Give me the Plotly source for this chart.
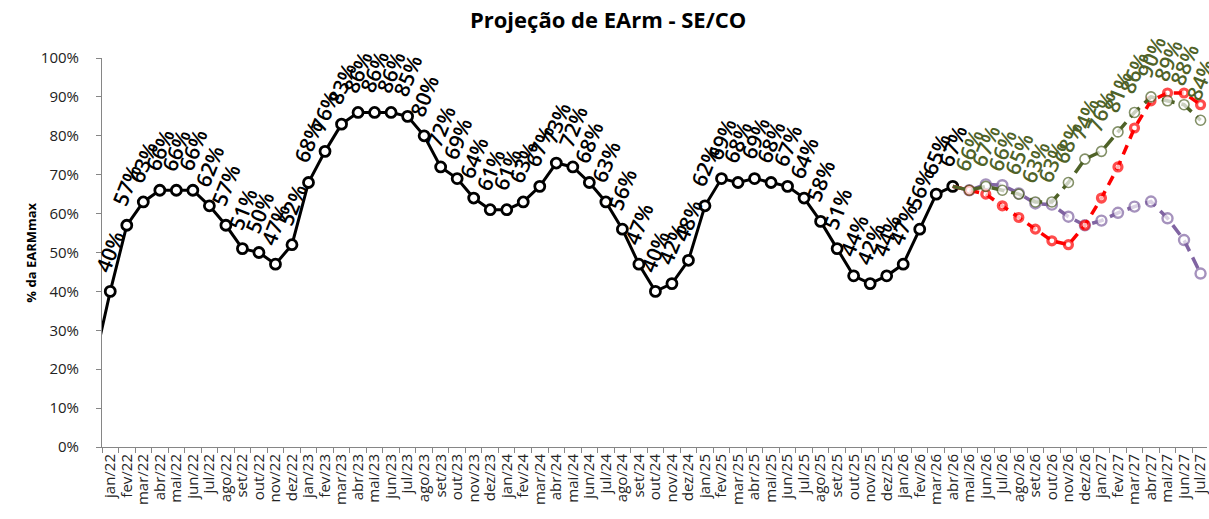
import plotly.graph_objects as go

# Month categories: dez/21 lies just left of the visible range so the
# observed line enters from the axis edge.
meses = ["jan", "fev", "mar", "abr", "mai", "jun", "jul", "ago", "set", "out", "nov", "dez"]
categorias = ["dez/21"] + [f"{m}/{a}" for a in ["22", "23", "24", "25", "26"] for m in meses] \
    + [f"{m}/27" for m in meses[:7]]

# Observed storage (dez/21 .. abr/26)
earm_verificado = [
    0.21,
    0.40, 0.57, 0.63, 0.66, 0.66, 0.66, 0.62, 0.57, 0.51, 0.50, 0.47, 0.52,
    0.68, 0.76, 0.83, 0.86, 0.86, 0.86, 0.85, 0.80, 0.72, 0.69, 0.64, 0.61,
    0.61, 0.63, 0.67, 0.73, 0.72, 0.68, 0.63, 0.56, 0.47, 0.40, 0.42, 0.48,
    0.62, 0.69, 0.68, 0.69, 0.68, 0.67, 0.64, 0.58, 0.51, 0.44, 0.42, 0.44,
    0.47, 0.56, 0.65, 0.67,
]

# Projections (abr/26 .. jul/27), starting from the last observed value
cat_proj = categorias[52:]
proj_verde = [0.67, 0.66, 0.67, 0.66, 0.65, 0.63, 0.63, 0.68, 0.74, 0.76,
              0.81, 0.86, 0.90, 0.89, 0.88, 0.84]
proj_vermelha = [0.67, 0.66, 0.65, 0.62, 0.59, 0.56, 0.53, 0.52, 0.57, 0.64,
                 0.72, 0.82, 0.89, 0.91, 0.91, 0.88]
proj_roxa = [0.67, 0.66, 0.675, 0.673, 0.652, 0.626, 0.623, 0.592, 0.57, 0.582,
             0.602, 0.618, 0.631, 0.588, 0.532, 0.446]

PRETO = "#000000"
VERDE = "#4F6228"
VERMELHO = "#FF0000"
ROXO = "#8064A2"
CINZA = "#868686"
FONTE = "Open Sans"

fig = go.Figure()

fig.add_trace(go.Scatter(
    x=categorias, y=earm_verificado, mode="lines+markers",
    line=dict(color=PRETO, width=3),
    marker=dict(symbol="circle", size=10, color="white",
                line=dict(color=PRETO, width=2.8)),
    showlegend=False,
))

n = len(cat_proj)

fig.add_trace(go.Scatter(
    x=cat_proj, y=proj_roxa, mode="lines+markers",
    line=dict(color=ROXO, width=3.5, dash="12px,7px"),
    marker=dict(symbol="circle", size=[0] + [10] * (n - 1), color="white",
                line=dict(color=ROXO, width=2.4)),
    showlegend=False,
))

fig.add_trace(go.Scatter(
    x=cat_proj, y=proj_vermelha, mode="lines+markers",
    line=dict(color=VERMELHO, width=3.5, dash="10px,7px"),
    marker=dict(symbol="circle", size=[0] + [8] * (n - 1), color="white",
                line=dict(color=VERMELHO, width=3.2)),
    showlegend=False,
))

fig.add_trace(go.Scatter(
    x=cat_proj, y=proj_verde, mode="lines+markers",
    line=dict(color=VERDE, width=3.5, dash="13px,7px"),
    marker=dict(symbol="circle", size=[0] + [10] * (n - 1), color="white",
                line=dict(color=VERDE, width=1.6)),
    showlegend=False,
))

# Rotated value labels above the observed and green-projection points
anotacoes = []
for cat, v in zip(categorias[1:], earm_verificado[1:]):
    anotacoes.append(dict(
        x=cat, y=v, xref="x", yref="y", text=f"{v:.0%}", showarrow=False,
        textangle=-68, yshift=40, xanchor="center", yanchor="middle",
        font=dict(family=FONTE, size=21, color=PRETO, weight=600),
    ))
for cat, v in zip(cat_proj[1:], proj_verde[1:]):
    anotacoes.append(dict(
        x=cat, y=v, xref="x", yref="y", text=f"{v:.0%}", showarrow=False,
        textangle=-68, yshift=40, xanchor="center", yanchor="middle",
        font=dict(family=FONTE, size=21, color=VERDE, weight=600),
    ))

# Y-axis title
largura_area = 1209 - 102
anotacoes.append(dict(
    x=(30 - 102) / largura_area, y=0.5, xref="paper", yref="paper",
    text="<b>% da EARMmax</b>",
    showarrow=False, textangle=-90, xanchor="center", yanchor="middle",
    font=dict(family=FONTE, size=13, color=PRETO),
))

fig.update_layout(
    width=1209, height=519,
    margin=dict(l=102, r=0, t=58, b=72),
    plot_bgcolor="white", paper_bgcolor="white",
    font=dict(family=FONTE, color="#222222"),
    title=dict(
        text="<b>Projeção de EArm - SE/CO</b>",
        x=0.503, xref="container", xanchor="center",
        y=1 - 20 / 519, yref="container", yanchor="middle",
        font=dict(family=FONTE, size=22, color=PRETO),
    ),
    annotations=anotacoes,
    xaxis=dict(
        type="category", categoryorder="array", categoryarray=categorias,
        range=[0.5, 67.39], tickson="boundaries", ticks="outside", ticklen=5,
        tickmode="array", tickvals=categorias, ticktext=categorias,
        tickcolor=CINZA, showline=True, linecolor=CINZA, linewidth=1,
        tickangle=-90, showgrid=False, zeroline=False,
        tickfont=dict(family=FONTE, size=15, color="#222222"),
    ),
    yaxis=dict(
        range=[0, 1], dtick=0.1, tickformat=".0%", ticks="outside", ticklen=5,
        ticklabelstandoff=14,
        tickcolor=CINZA, showline=True, linecolor=CINZA, linewidth=1,
        showgrid=False, zeroline=False,
        tickfont=dict(family=FONTE, size=15, color="#222222"),
    ),
)

fig.write_html("out.html")
